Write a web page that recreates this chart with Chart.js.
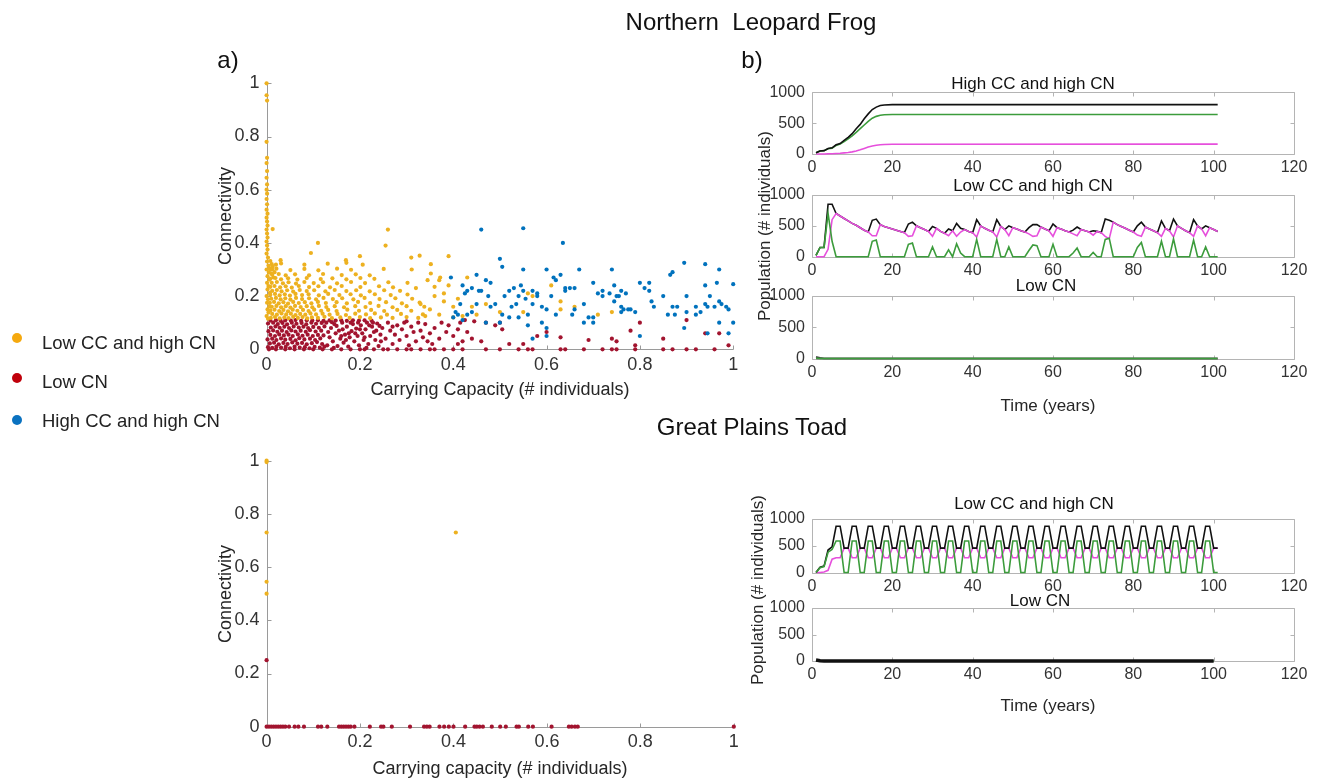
<!DOCTYPE html>
<html><head><meta charset="utf-8">
<script src="https://cdn.jsdelivr.net/npm/chart.js@4.4.1/dist/chart.umd.min.js"></script>
<style>
html,body{margin:0;padding:0;background:#fff;}
#wrap{position:relative;width:1323px;height:778px;overflow:hidden;font-family:"Liberation Sans",Arial,sans-serif;color:#262626;}
canvas{position:absolute;left:0;top:0;}
.t{position:absolute;white-space:pre;transform:translate(-50%,-50%);line-height:1;}
.v{position:absolute;white-space:pre;transform:translate(-50%,-50%) rotate(-90deg);line-height:1;}
.dot{position:absolute;width:10px;height:10px;border-radius:50%;transform:translate(-50%,-50%);}
.lg{position:absolute;white-space:pre;transform:translateY(-50%);font-size:18.5px;line-height:1;color:#222;}
</style></head><body><div id="wrap">
<canvas id="sFrog" width="1323" height="778"></canvas>
<canvas id="sToad" width="1323" height="778"></canvas>
<canvas id="p1" width="1323" height="778"></canvas>
<canvas id="p2" width="1323" height="778"></canvas>
<canvas id="p3" width="1323" height="778"></canvas>
<canvas id="p4" width="1323" height="778"></canvas>
<canvas id="p5" width="1323" height="778"></canvas>

<div class="t" style="left:751px;top:22px;font-size:24px;color:#111;">Northern  Leopard Frog</div>
<div class="t" style="left:752px;top:427px;font-size:24px;color:#111;">Great Plains Toad</div>
<div class="t" style="left:228px;top:60px;font-size:24px;color:#111;">a)</div>
<div class="t" style="left:752px;top:60px;font-size:24px;color:#111;">b)</div>

<div class="v" style="left:225px;top:216px;font-size:18px;">Connectivity</div>
<div class="t" style="left:500px;top:389px;font-size:18px;">Carrying Capacity (# individuals)</div>
<div class="v" style="left:225px;top:594px;font-size:18px;">Connectivity</div>
<div class="t" style="left:500px;top:768px;font-size:18px;">Carrying capacity (# individuals)</div>

<div class="t" style="left:1033px;top:83px;font-size:17px;color:#111;">High CC and high CN</div>
<div class="t" style="left:1033px;top:185px;font-size:17px;color:#111;">Low CC and high CN</div>
<div class="t" style="left:1046px;top:285px;font-size:17px;color:#111;">Low CN</div>
<div class="v" style="left:764px;top:226px;font-size:17px;">Population (# individuals)</div>
<div class="t" style="left:1048px;top:405px;font-size:17px;">Time (years)</div>

<div class="t" style="left:1034px;top:503px;font-size:17px;color:#111;">Low CC and high CN</div>
<div class="t" style="left:1040px;top:600px;font-size:17px;color:#111;">Low CN</div>
<div class="v" style="left:757px;top:590px;font-size:17px;">Population (# individuals)</div>
<div class="t" style="left:1048px;top:705px;font-size:17px;">Time (years)</div>

<div class="dot" style="left:17px;top:338px;background:#F5A90F;"></div>
<div class="lg" style="left:42px;top:343px;">Low CC and high CN</div>
<div class="dot" style="left:17px;top:378px;background:#C0000B;"></div>
<div class="lg" style="left:42px;top:382px;">Low CN</div>
<div class="dot" style="left:17px;top:420px;background:#0A72C0;"></div>
<div class="lg" style="left:42px;top:421px;">High CC and high CN</div>
</div>
<script>
// ---------- tick labels ----------
const scatterTicks = [0, 0.2, 0.4, 0.6, 0.8, 1];
const timeTicks = [0, 20, 40, 60, 80, 100, 120];
const popTicks = [0, 500, 1000];

// ---------- a) Northern Leopard Frog scatter (x = carrying capacity, y = connectivity) ----------
const frogLowCcHighCn = [
[0,1],[0,0.955],[0.001,0.935],[0,0.78],[0.001,0.72],[0,0.7],[0.001,0.67],[0,0.645],[0.001,0.62],[0,0.6],[0.001,0.585],[0,0.565],[0.001,0.545],[0,0.525],[0.002,0.51],[0,0.495],[0.001,0.48],[0.002,0.465],[0,0.45],[0.001,0.435],[0.002,0.42],[0,0.405],[0.001,0.39],[0.002,0.375],[0,0.36],[0.003,0.345],[0.001,0.33],[0.004,0.315],[0,0.3],[0.005,0.29],[0.002,0.275],[0.006,0.262],[0.001,0.25],[0.004,0.238],[0.002,0.225],[0.007,0.212],[0,0.2],[0.003,0.188],[0.001,0.175],[0.006,0.162],[0.002,0.15],[0.004,0.138],[0,0.125],[0.003,0.115],
[0.012,0.3],[0.01,0.285],[0.015,0.27],[0.02,0.318],[0.008,0.332],[0.013,0.31],[0.006,0.305],[0.017,0.29],
[0.009,0.118],[0.018,0.121],[0.028,0.116],[0.038,0.12],[0.047,0.117],[0.057,0.122],[0.067,0.118],[0.077,0.121],[0.087,0.116],[0.097,0.12],[0.11,0.118],[0.124,0.122],[0.14,0.117],[0.158,0.12],[0.178,0.118],[0.2,0.121],[0.222,0.117],[0.245,0.12],[0.27,0.118],[0.3,0.121],[0.325,0.118],
[0.012,0.133],[0.022,0.13],[0.032,0.135],[0.042,0.131],[0.052,0.134],[0.062,0.129],[0.072,0.133],[0.083,0.13],[0.094,0.135],[0.106,0.131],[0.12,0.134],[0.135,0.13],[0.152,0.133],[0.17,0.129],[0.19,0.134],[0.213,0.131],[0.232,0.135],[0.258,0.13],[0.288,0.133],[0.335,0.131],
[0.008,0.146],[0.017,0.149],[0.027,0.144],[0.036,0.148],[0.046,0.143],[0.056,0.149],[0.066,0.145],[0.078,0.148],[0.09,0.144],[0.102,0.149],[0.117,0.145],[0.132,0.148],[0.15,0.144],[0.173,0.149],[0.198,0.145],[0.224,0.148],[0.252,0.144],[0.28,0.148],[0.31,0.145],
[0.011,0.16],[0.021,0.163],[0.031,0.158],[0.041,0.162],[0.051,0.157],[0.061,0.163],[0.073,0.159],[0.086,0.162],[0.098,0.158],[0.112,0.163],[0.128,0.159],[0.146,0.162],[0.166,0.158],[0.19,0.162],[0.212,0.159],[0.24,0.163],[0.27,0.158],[0.3,0.162],[0.338,0.16],
[0.007,0.175],[0.016,0.178],[0.026,0.173],[0.036,0.177],[0.046,0.172],[0.057,0.178],[0.069,0.174],[0.082,0.177],[0.096,0.173],[0.11,0.178],[0.127,0.174],[0.15,0.177],[0.172,0.173],[0.196,0.178],[0.222,0.174],[0.256,0.177],[0.29,0.173],[0.328,0.176],
[0.01,0.19],[0.02,0.193],[0.03,0.188],[0.04,0.192],[0.051,0.187],[0.063,0.193],[0.076,0.189],[0.091,0.192],[0.106,0.188],[0.122,0.193],[0.142,0.189],[0.162,0.192],[0.186,0.188],[0.21,0.193],[0.242,0.189],[0.276,0.192],[0.312,0.19],
[0.008,0.205],[0.018,0.208],[0.028,0.203],[0.039,0.207],[0.05,0.202],[0.062,0.208],[0.076,0.204],[0.09,0.207],[0.112,0.203],[0.132,0.208],[0.156,0.204],[0.18,0.207],[0.202,0.203],[0.232,0.207],[0.266,0.204],[0.302,0.206],
[0.012,0.22],[0.022,0.223],[0.032,0.218],[0.044,0.222],[0.057,0.217],[0.071,0.223],[0.086,0.219],[0.102,0.222],[0.126,0.218],[0.146,0.223],[0.171,0.219],[0.192,0.222],[0.221,0.218],[0.252,0.222],[0.286,0.22],
[0.008,0.235],[0.017,0.238],[0.029,0.233],[0.041,0.237],[0.054,0.232],[0.069,0.238],[0.091,0.234],[0.111,0.237],[0.136,0.233],[0.161,0.238],[0.201,0.234],[0.241,0.237],[0.271,0.233],
[0.011,0.25],[0.022,0.253],[0.035,0.248],[0.047,0.252],[0.063,0.247],[0.081,0.253],[0.101,0.249],[0.121,0.252],[0.151,0.248],[0.181,0.253],[0.211,0.249],[0.261,0.252],[0.302,0.25],
[0.008,0.265],[0.019,0.268],[0.031,0.263],[0.046,0.267],[0.066,0.262],[0.086,0.268],[0.116,0.264],[0.141,0.267],[0.171,0.263],[0.201,0.268],[0.231,0.265],
[0.012,0.28],[0.026,0.283],[0.041,0.278],[0.061,0.282],[0.091,0.278],[0.121,0.283],[0.161,0.279],[0.191,0.282],[0.221,0.278],[0.352,0.285],[0.372,0.27],
[0.009,0.3],[0.021,0.303],[0.051,0.298],[0.081,0.302],[0.111,0.297],[0.151,0.303],[0.181,0.299],[0.251,0.302],[0.311,0.3],
[0.011,0.32],[0.031,0.323],[0.081,0.318],[0.131,0.322],[0.171,0.325],[0.206,0.318],[0.352,0.32],
[0.013,0.452],[0.11,0.4],[0.095,0.362],[0.03,0.335],[0.26,0.45],[0.255,0.39],[0.31,0.345],[0.328,0.352],[0.39,0.35],[0.2,0.35],[0.17,0.335],[0.43,0.27],[0.37,0.26],[0.39,0.24],[0.41,0.19],[0.4,0.12],[0.42,0.125],[0.44,0.16],[0.47,0.17],[0.5,0.14],[0.55,0.14],[0.56,0.21],[0.57,0.2],[0.61,0.24],[0.63,0.18],[0.63,0.15],[0.66,0.16],[0.71,0.13],[0.74,0.14],[0.36,0.2],[0.38,0.18],[0.35,0.15],[0.37,0.13],[0.33,0.17],[0.34,0.125],[0.36,0.235],[0.345,0.26],[0.32,0.23],[0.38,0.21],[0.4,0.16],[0.45,0.13]
];
const frogLowCn = [
[0.003,0.008],[0.012,0.005],[0.021,0.01],[0.031,0.006],[0.041,0.009],[0.05,0.004],[0.06,0.01],[0.071,0.006],[0.082,0.008],[0.092,0.004],[0.103,0.009],[0.114,0.006],[0.124,0.01],
[0.007,0.022],[0.016,0.025],[0.026,0.019],[0.036,0.024],[0.045,0.02],[0.055,0.026],[0.066,0.021],[0.076,0.024],[0.086,0.019],[0.097,0.023],[0.108,0.027],[0.119,0.02],
[0.002,0.037],[0.012,0.04],[0.021,0.035],[0.031,0.041],[0.04,0.036],[0.051,0.039],[0.062,0.034],[0.07,0.042],[0.081,0.037],[0.093,0.04],[0.104,0.035],[0.115,0.041],
[0.008,0.054],[0.018,0.05],[0.027,0.056],[0.037,0.052],[0.047,0.055],[0.056,0.05],[0.067,0.056],[0.077,0.051],[0.088,0.055],[0.099,0.05],[0.11,0.054],[0.122,0.052],
[0.004,0.068],[0.014,0.071],[0.023,0.066],[0.033,0.07],[0.043,0.065],[0.053,0.071],[0.062,0.067],[0.073,0.07],[0.084,0.066],[0.093,0.072],[0.105,0.067],[0.117,0.07],
[0.009,0.082],[0.019,0.086],[0.028,0.081],[0.038,0.085],[0.048,0.08],[0.058,0.086],[0.069,0.082],[0.079,0.085],[0.089,0.08],[0.1,0.084],[0.112,0.081],[0.124,0.086],
[0.003,0.097],[0.014,0.1],[0.024,0.095],[0.034,0.099],[0.044,0.094],[0.054,0.1],[0.064,0.096],[0.075,0.099],[0.085,0.094],[0.096,0.1],[0.106,0.096],[0.118,0.099],
[0.008,0.108],[0.02,0.109],[0.03,0.107],[0.04,0.109],[0.052,0.108],[0.062,0.11],[0.074,0.107],[0.086,0.109],[0.098,0.108],[0.11,0.109],[0.122,0.107],[0.135,0.109],[0.148,0.108],[0.16,0.109],[0.172,0.107],[0.185,0.109],[0.198,0.108],[0.21,0.109],[0.225,0.107],
[0.13,0.015],[0.135,0.045],[0.138,0.08],[0.142,0.03],[0.145,0.095],[0.148,0.06],[0.152,0.012],[0.155,0.07],[0.158,0.04],[0.162,0.1],[0.165,0.025],[0.168,0.055],[0.172,0.085],[0.175,0.01],[0.178,0.045],[0.182,0.068],[0.185,0.095],[0.188,0.03],[0.192,0.078],[0.195,0.05],[0.198,0.015],[0.202,0.09],[0.205,0.06],[0.208,0.035],[0.212,0.075],[0.215,0.1],[0.218,0.02],[0.222,0.05],[0.226,0.085],[0.23,0.065],[0.233,0.035],[0.237,0.097],[0.24,0.012],[0.244,0.055],[0.248,0.08],[0.132,0.065],[0.14,0.102],[0.15,0.088],[0.16,0.05],[0.17,0.035],[0.18,0.1],[0.19,0.06],[0.2,0.075],[0.21,0.045],[0.22,0.09],[0.235,0.07],[0.245,0.03],[0.128,0.1],[0.144,0.005],[0.163,0.075],[0.176,0.06],[0.196,0.1],[0.214,0.005],[0.228,0.1],[0.242,0.088],
[0.255,0.04],[0.26,0.1],[0.265,0.07],[0.27,0.02],[0.275,0.055],[0.28,0.09],[0.285,0.035],[0.29,0.075],[0.295,0.1],[0.3,0.05],[0.305,0.015],[0.31,0.085],[0.315,0.065],[0.32,0.03],[0.325,0.1],[0.33,0.07],[0.335,0.045],[0.34,0.095],[0.35,0.06],[0.355,0.02],[0.36,0.08],[0.37,0.04],[0.375,0.1],[0.385,0.065],[0.39,0.09],[0.4,0.05],[0.41,0.075],[0.415,0.1],[0.42,0.03],[0.425,0.11],[0.43,0.065],[0.44,0.04],[0.445,0.105],[0.3,0.105],[0.27,0.085],[0.345,0.03],
[0.46,0.03],[0.49,0.09],[0.5,0.1],[0.505,0.075],[0.52,0.02],[0.55,0.02],[0.58,0.05],[0.6,0.065],[0.63,0.045],[0.69,0.035],[0.74,0.04],[0.75,0.03],[0.78,0.07],[0.79,0.015],[0.8,0.1],[0.85,0.04],[0.9,0.11],[0.94,0.06],[0.97,0.06],[0.99,0.015],[0.47,0.1],[0.41,0.02],
[0.005,0],[0.02,0],[0.04,0],[0.06,0],[0.08,0],[0.1,0],[0.12,0],[0.14,0],[0.16,0],[0.18,0],[0.2,0],[0.21,0],[0.23,0],[0.25,0],[0.26,0],[0.28,0],[0.3,0],[0.31,0],[0.33,0],[0.35,0],[0.36,0],[0.38,0],[0.4,0],[0.42,0],[0.47,0],[0.5,0],[0.54,0],[0.56,0],[0.57,0],[0.63,0],[0.64,0],[0.68,0],[0.72,0],[0.74,0],[0.75,0],[0.79,0],[0.85,0],[0.87,0],[0.9,0],[0.92,0],[0.96,0]
];
const frogHighCcHighCn = [
[0.46,0.45],[0.55,0.455],[0.635,0.4],[0.5,0.34],[0.505,0.31],[0.55,0.3],[0.6,0.3],[0.67,0.3],[0.74,0.3],[0.87,0.29],[0.865,0.28],[0.895,0.325],[0.94,0.32],[0.97,0.3],[1.0,0.245],[0.965,0.25],[0.94,0.24],[0.9,0.2],[0.88,0.16],[0.86,0.13],[0.875,0.13],[0.92,0.16],[0.94,0.17],[0.945,0.16],[0.95,0.2],[0.97,0.18],[0.975,0.17],[0.99,0.15],[0.97,0.1],[1.0,0.1],[0.99,0.06],[0.945,0.06],[0.895,0.08],[0.87,0.16],[0.82,0.22],[0.81,0.23],[0.825,0.18],[0.83,0.16],[0.8,0.25],[0.78,0.15],[0.775,0.15],[0.765,0.15],[0.76,0.14],[0.755,0.2],[0.76,0.22],[0.75,0.2],[0.745,0.24],[0.735,0.21],[0.72,0.2],[0.71,0.21],[0.7,0.25],[0.7,0.12],[0.7,0.1],[0.68,0.1],[0.655,0.13],[0.65,0.23],[0.64,0.22],[0.63,0.28],[0.62,0.26],[0.61,0.2],[0.6,0.08],[0.59,0.1],[0.6,0.15],[0.59,0.16],[0.58,0.2],[0.58,0.21],[0.57,0.17],[0.56,0.09],[0.555,0.19],[0.55,0.22],[0.545,0.24],[0.54,0.2],[0.535,0.17],[0.525,0.16],[0.52,0.12],[0.51,0.2],[0.505,0.13],[0.5,0.1],[0.49,0.17],[0.48,0.16],[0.475,0.2],[0.47,0.1],[0.46,0.22],[0.455,0.22],[0.45,0.17],[0.44,0.14],[0.43,0.22],[0.425,0.21],[0.42,0.24],[0.415,0.17],[0.41,0.13],[0.405,0.14],[0.4,0.12],[0.395,0.27],[0.45,0.28],[0.47,0.26],[0.52,0.22],[0.54,0.12],[0.56,0.13],[0.62,0.13],[0.64,0.23],[0.66,0.23],[0.68,0.17],[0.69,0.12],[0.72,0.22],[0.79,0.14],[0.8,0.05],[0.82,0.25],[0.92,0.13],[0.93,0.14],[0.96,0.16],[0.985,0.16],[0.85,0.2],[0.9,0.14],[0.57,0.04],[0.6,0.05],[0.53,0.23],[0.48,0.25],[0.44,0.23],[0.42,0.11],[0.43,0.13],[0.57,0.22],[0.66,0.15],[0.615,0.27],[0.76,0.16],[0.77,0.21],[0.745,0.18]
];

// ---------- a) Great Plains Toad scatter ----------
const toadLowCcHighCn = [[0,1],[0,0.995],[0,0.73],[0,0.545],[0,0.5],[0.405,0.73]];
const toadLowCn = [[0,0.25],[0,0],[0.005,0],[0.01,0],[0.015,0],[0.02,0],[0.025,0],[0.03,0],[0.035,0],[0.04,0],[0.048,0],[0.06,0],[0.068,0],[0.08,0],[0.11,0],[0.117,0],[0.13,0],[0.155,0],[0.16,0],[0.165,0],[0.17,0],[0.175,0],[0.18,0],[0.188,0],[0.221,0],[0.245,0],[0.25,0],[0.268,0],[0.307,0],[0.337,0],[0.343,0],[0.349,0],[0.37,0],[0.38,0],[0.39,0],[0.4,0],[0.425,0],[0.445,0],[0.45,0],[0.456,0],[0.463,0],[0.482,0],[0.5,0],[0.512,0],[0.535,0],[0.54,0],[0.56,0],[0.57,0],[0.61,0],[0.647,0],[0.653,0],[0.66,0],[0.666,0],[1,0]];

// ---------- b) population time series (years 1..101) ----------
const years = Array.from({length: 101}, (_, i) => i + 1);
// Frog, High CC and high CN : [year, value]
const frogHighBlack = [[1,20],[2,50],[3,55],[4,90],[5,100],[6,150],[7,170],[8,220],[9,270],[10,330],[11,410],[12,480],[13,570],[14,650],[15,720],[16,760],[17,785],[18,795],[20,800],[101,800]];
const frogHighGreen = [[1,20],[2,50],[3,52],[4,85],[5,95],[6,140],[7,160],[8,200],[9,245],[10,295],[11,350],[12,410],[13,470],[14,530],[15,580],[16,610],[17,628],[18,636],[20,640],[101,640]];
const frogHighMagenta = [[1,0],[3,0],[4,3],[5,5],[6,8],[7,12],[8,18],[9,25],[10,35],[11,50],[12,68],[13,90],[14,112],[15,130],[16,142],[17,150],[18,155],[20,158],[101,160]];
// Frog, Low CC and high CN : one value per year
const frogLowCcGreen = [20,150,150,700,250,0,0,0,0,0, 0,0,0,0,250,270,0,0,0,0, 0,0,0,200,220,0,0,0,0,160, 0,0,0,110,0,210,60,0,0,0, 280,0,0,0,0,280,0,0,160,0, 0,0,0,100,190,180,0,0,0,200, 0,0,0,0,60,140,0,0,0,70, 0,0,280,300,0,0,0,0,0,0, 150,230,0,0,0,0,250,0,0,290, 0,0,0,0,270,0,0,160,0,0, 0];
const frogLowCcMagenta = [0,0,0,120,600,700,660,620,580,540, 510,470,430,400,340,340,520,490,470,450, 430,410,390,330,340,500,470,440,410,330, 460,410,380,340,420,330,400,440,410,390, 320,500,460,430,400,320,490,440,340,470, 450,420,400,370,330,340,480,450,420,330, 470,450,420,400,370,340,440,420,400,350, 410,390,330,290,560,520,490,460,430,400, 350,330,480,450,420,390,330,460,420,320, 500,460,420,390,330,500,450,340,470,440, 410];
const frogLowCcBlack = [20,150,150,850,850,700,660,620,580,540, 510,470,430,400,590,610,520,490,470,450, 430,410,390,530,560,500,470,440,410,490, 460,410,380,450,420,540,460,440,410,390, 600,500,460,430,400,600,490,440,500,470, 450,420,400,470,520,520,480,450,420,530, 470,450,420,400,430,480,440,420,400,420, 410,390,610,590,560,520,490,460,430,400, 500,560,480,450,420,390,580,460,420,610, 500,460,420,390,600,500,450,500,470,440, 410];
// Frog, Low CN : [year, value]
const frogLowCnBlack = [[1,25],[2,10],[3,0],[101,0]];
const frogLowCnGreen = [[1,5],[2,0],[101,0]];
const frogLowCnMagenta = [[1,0],[101,0]];
// Toad, Low CC and high CN : one value per year
const toadLowCcGreen = [0,90,110,380,430,
590,590,0,0, 590,590,0,0, 590,590,0,0, 590,590,0,0, 590,590,0,0, 590,590,0,0,
590,590,0,0, 590,590,0,0, 590,590,0,0, 590,590,0,0, 590,590,0,0, 590,590,0,0,
590,590,0,0, 590,590,0,0, 590,590,0,0, 590,590,0,0, 590,590,0,0, 590,590,0,0,
590,590,0,0, 590,590,0,0, 590,590,0,0, 590,590,0,0, 590,590,0,0, 590,590,0,0];
const toadLowCcMagenta = [0,0,10,40,250,
275,275,455,455, 275,275,455,455, 275,275,455,455, 275,275,455,455, 275,275,455,455, 275,275,455,455,
275,275,455,455, 275,275,455,455, 275,275,455,455, 275,275,455,455, 275,275,455,455, 275,275,455,455,
275,275,455,455, 275,275,455,455, 275,275,455,455, 275,275,455,455, 275,275,455,455, 275,275,455,455,
275,275,455,455, 275,275,455,455, 275,275,455,455, 275,275,455,455, 275,275,455,455, 275,275,455,455];
const toadLowCcBlack = [0,100,120,420,480,
865,865,455,455, 865,865,455,455, 865,865,455,455, 865,865,455,455, 865,865,455,455, 865,865,455,455,
865,865,455,455, 865,865,455,455, 865,865,455,455, 865,865,455,455, 865,865,455,455, 865,865,455,455,
865,865,455,455, 865,865,455,455, 865,865,455,455, 865,865,455,455, 865,865,455,455, 865,865,455,455,
865,865,455,455, 865,865,455,455, 865,865,455,455, 865,865,455,455, 865,865,455,455, 865,865,455,455];
// Toad, Low CN : [year, value]
const toadLowCnBlack = [[1,20],[2,5],[3,0],[100,0]];
const toadLowCnGreen = [[1,0],[100,0]];

// ---------- styling ----------
const W = 1323, H = 778;
const C_BLACK = '#111111', C_GREEN = '#3c9c3c', C_MAG = '#e64fdc';
Chart.defaults.font.family = '"Liberation Sans", Arial, sans-serif';
Chart.defaults.color = '#333333';

const axisDecor = {
  id: 'axisDecor',
  beforeDatasetsDraw(chart, args, o) {
    const {ctx, chartArea: a} = chart;
    const xs = chart.scales.x, ys = chart.scales.y;
    const L = o.tickLen;
    const l = Math.round(a.left) + 0.5, r = Math.round(a.right) + 0.5;
    const t = Math.round(a.top) + 0.5, b = Math.round(a.bottom) + 0.5;
    ctx.save();
    ctx.strokeStyle = o.color; ctx.lineWidth = 1;
    ctx.beginPath();
    if (o.box) { ctx.rect(l, t, r - l, b - t); }
    else { ctx.moveTo(l, t); ctx.lineTo(l, b); ctx.lineTo(r, b); }
    xs.ticks.forEach(tk => {
      const p = Math.round(xs.getPixelForValue(tk.value)) + 0.5;
      ctx.moveTo(p, b); ctx.lineTo(p, b - L);
      if (o.box) { ctx.moveTo(p, t); ctx.lineTo(p, t + L); }
    });
    ys.ticks.forEach(tk => {
      const p = Math.round(ys.getPixelForValue(tk.value)) + 0.5;
      ctx.moveTo(l, p); ctx.lineTo(l + L, p);
      if (o.box) { ctx.moveTo(r, p); ctx.lineTo(r - L, p); }
    });
    ctx.stroke();
    ctx.restore();
  }
};

function axes(rect, xTicks, yTicks, xr, yr, fontSize, xPad, yPad, fmt) {
  const yW = 70, xH = 40;
  return {
    layout: {padding: {left: rect.l - yW, right: W - rect.r, top: rect.t, bottom: H - rect.b - xH}},
    scales: {
      x: {type: 'linear', min: xr[0], max: xr[1],
        afterBuildTicks: s => { s.ticks = xTicks.map(v => ({value: v})); },
        afterFit: s => { s.height = xH; s.paddingLeft = 0; s.paddingRight = 0; },
        grid: {display: false, drawTicks: false}, border: {display: false},
        ticks: {padding: xPad, maxRotation: 0, autoSkip: false, font: {size: fontSize}, color: '#333', callback: fmt}},
      y: {type: 'linear', min: yr[0], max: yr[1],
        afterBuildTicks: s => { s.ticks = yTicks.map(v => ({value: v})); },
        afterFit: s => { s.width = yW; s.paddingTop = 0; s.paddingBottom = 0; },
        grid: {display: false, drawTicks: false}, border: {display: false},
        ticks: {padding: yPad, autoSkip: false, font: {size: fontSize}, color: '#333', callback: fmt}}
    }
  };
}
const fmtNum = v => String(Math.round(v * 10) / 10);
const toXY = arr => arr.map(p => ({x: p[0], y: p[1]}));
const byYear = arr => arr.map((v, i) => ({x: years[i], y: v}));

function scatter(id, rect, sets) {
  const ax = axes(rect, scatterTicks, scatterTicks, [0, 1], [0, 1], 18, 5, 7, fmtNum);
  new Chart(document.getElementById(id), {
    type: 'scatter',
    data: {datasets: sets.map(s => ({data: toXY(s.data), backgroundColor: s.color, borderWidth: 0, pointRadius: 2.1, clip: false}))},
    options: Object.assign({responsive: false, animation: false, events: [],
      plugins: {legend: {display: false}, tooltip: {enabled: false}, axisDecor: {box: false, tickLen: 4, color: '#9a9a9a'}}}, ax),
    plugins: [axisDecor]
  });
}
function lines(id, rect, sets) {
  const ax = axes(rect, timeTicks, popTicks, [0, 120], [0, 1000], 16, 4, 7, fmtNum);
  new Chart(document.getElementById(id), {
    type: 'line',
    data: {datasets: sets.map(s => ({data: s.data, borderColor: s.color, borderWidth: s.w || 1.6, pointRadius: 0, fill: false, tension: 0, clip: false}))},
    options: Object.assign({responsive: false, animation: false, events: [],
      plugins: {legend: {display: false}, tooltip: {enabled: false}, axisDecor: {box: true, tickLen: 4, color: '#b4b4b4'}}}, ax),
    plugins: [axisDecor]
  });
}

scatter('sFrog', {l: 266.6, r: 733.2, t: 83.3, b: 349.3}, [
  {data: frogHighCcHighCn, color: '#0072BD'},
  {data: frogLowCcHighCn, color: '#EDB120'},
  {data: frogLowCn, color: '#A2142F'}
]);
scatter('sToad', {l: 266.6, r: 733.8, t: 460.7, b: 726.7}, [
  {data: toadLowCcHighCn, color: '#EDB120'},
  {data: toadLowCn, color: '#A2142F'}
]);

lines('p1', {l: 812, r: 1294, t: 92.3, b: 154}, [
  {data: toXY(frogHighBlack), color: C_BLACK},
  {data: toXY(frogHighGreen), color: C_GREEN},
  {data: toXY(frogHighMagenta), color: C_MAG}
]);
lines('p2', {l: 812, r: 1294, t: 195, b: 256.7}, [
  {data: byYear(frogLowCcGreen), color: C_GREEN},
  {data: byYear(frogLowCcMagenta), color: C_MAG},
  {data: byYear(frogLowCcBlack), color: C_BLACK}
]);
lines('p3', {l: 812, r: 1294, t: 296, b: 358.5}, [
  {data: toXY(frogLowCnGreen), color: C_GREEN, w: 2},
  {data: toXY(frogLowCnMagenta), color: C_MAG},
  {data: toXY(frogLowCnBlack), color: C_BLACK}
]);
lines('p4', {l: 812, r: 1294, t: 519, b: 572.5}, [
  {data: byYear(toadLowCcGreen), color: C_GREEN},
  {data: byYear(toadLowCcBlack), color: C_BLACK},
  {data: byYear(toadLowCcMagenta), color: C_MAG}
]);
lines('p5', {l: 812, r: 1294, t: 608, b: 661}, [
  {data: toXY(toadLowCnBlack), color: C_BLACK, w: 3.5},
  {data: toXY(toadLowCnGreen), color: C_GREEN}
]);
</script>
</body></html>
